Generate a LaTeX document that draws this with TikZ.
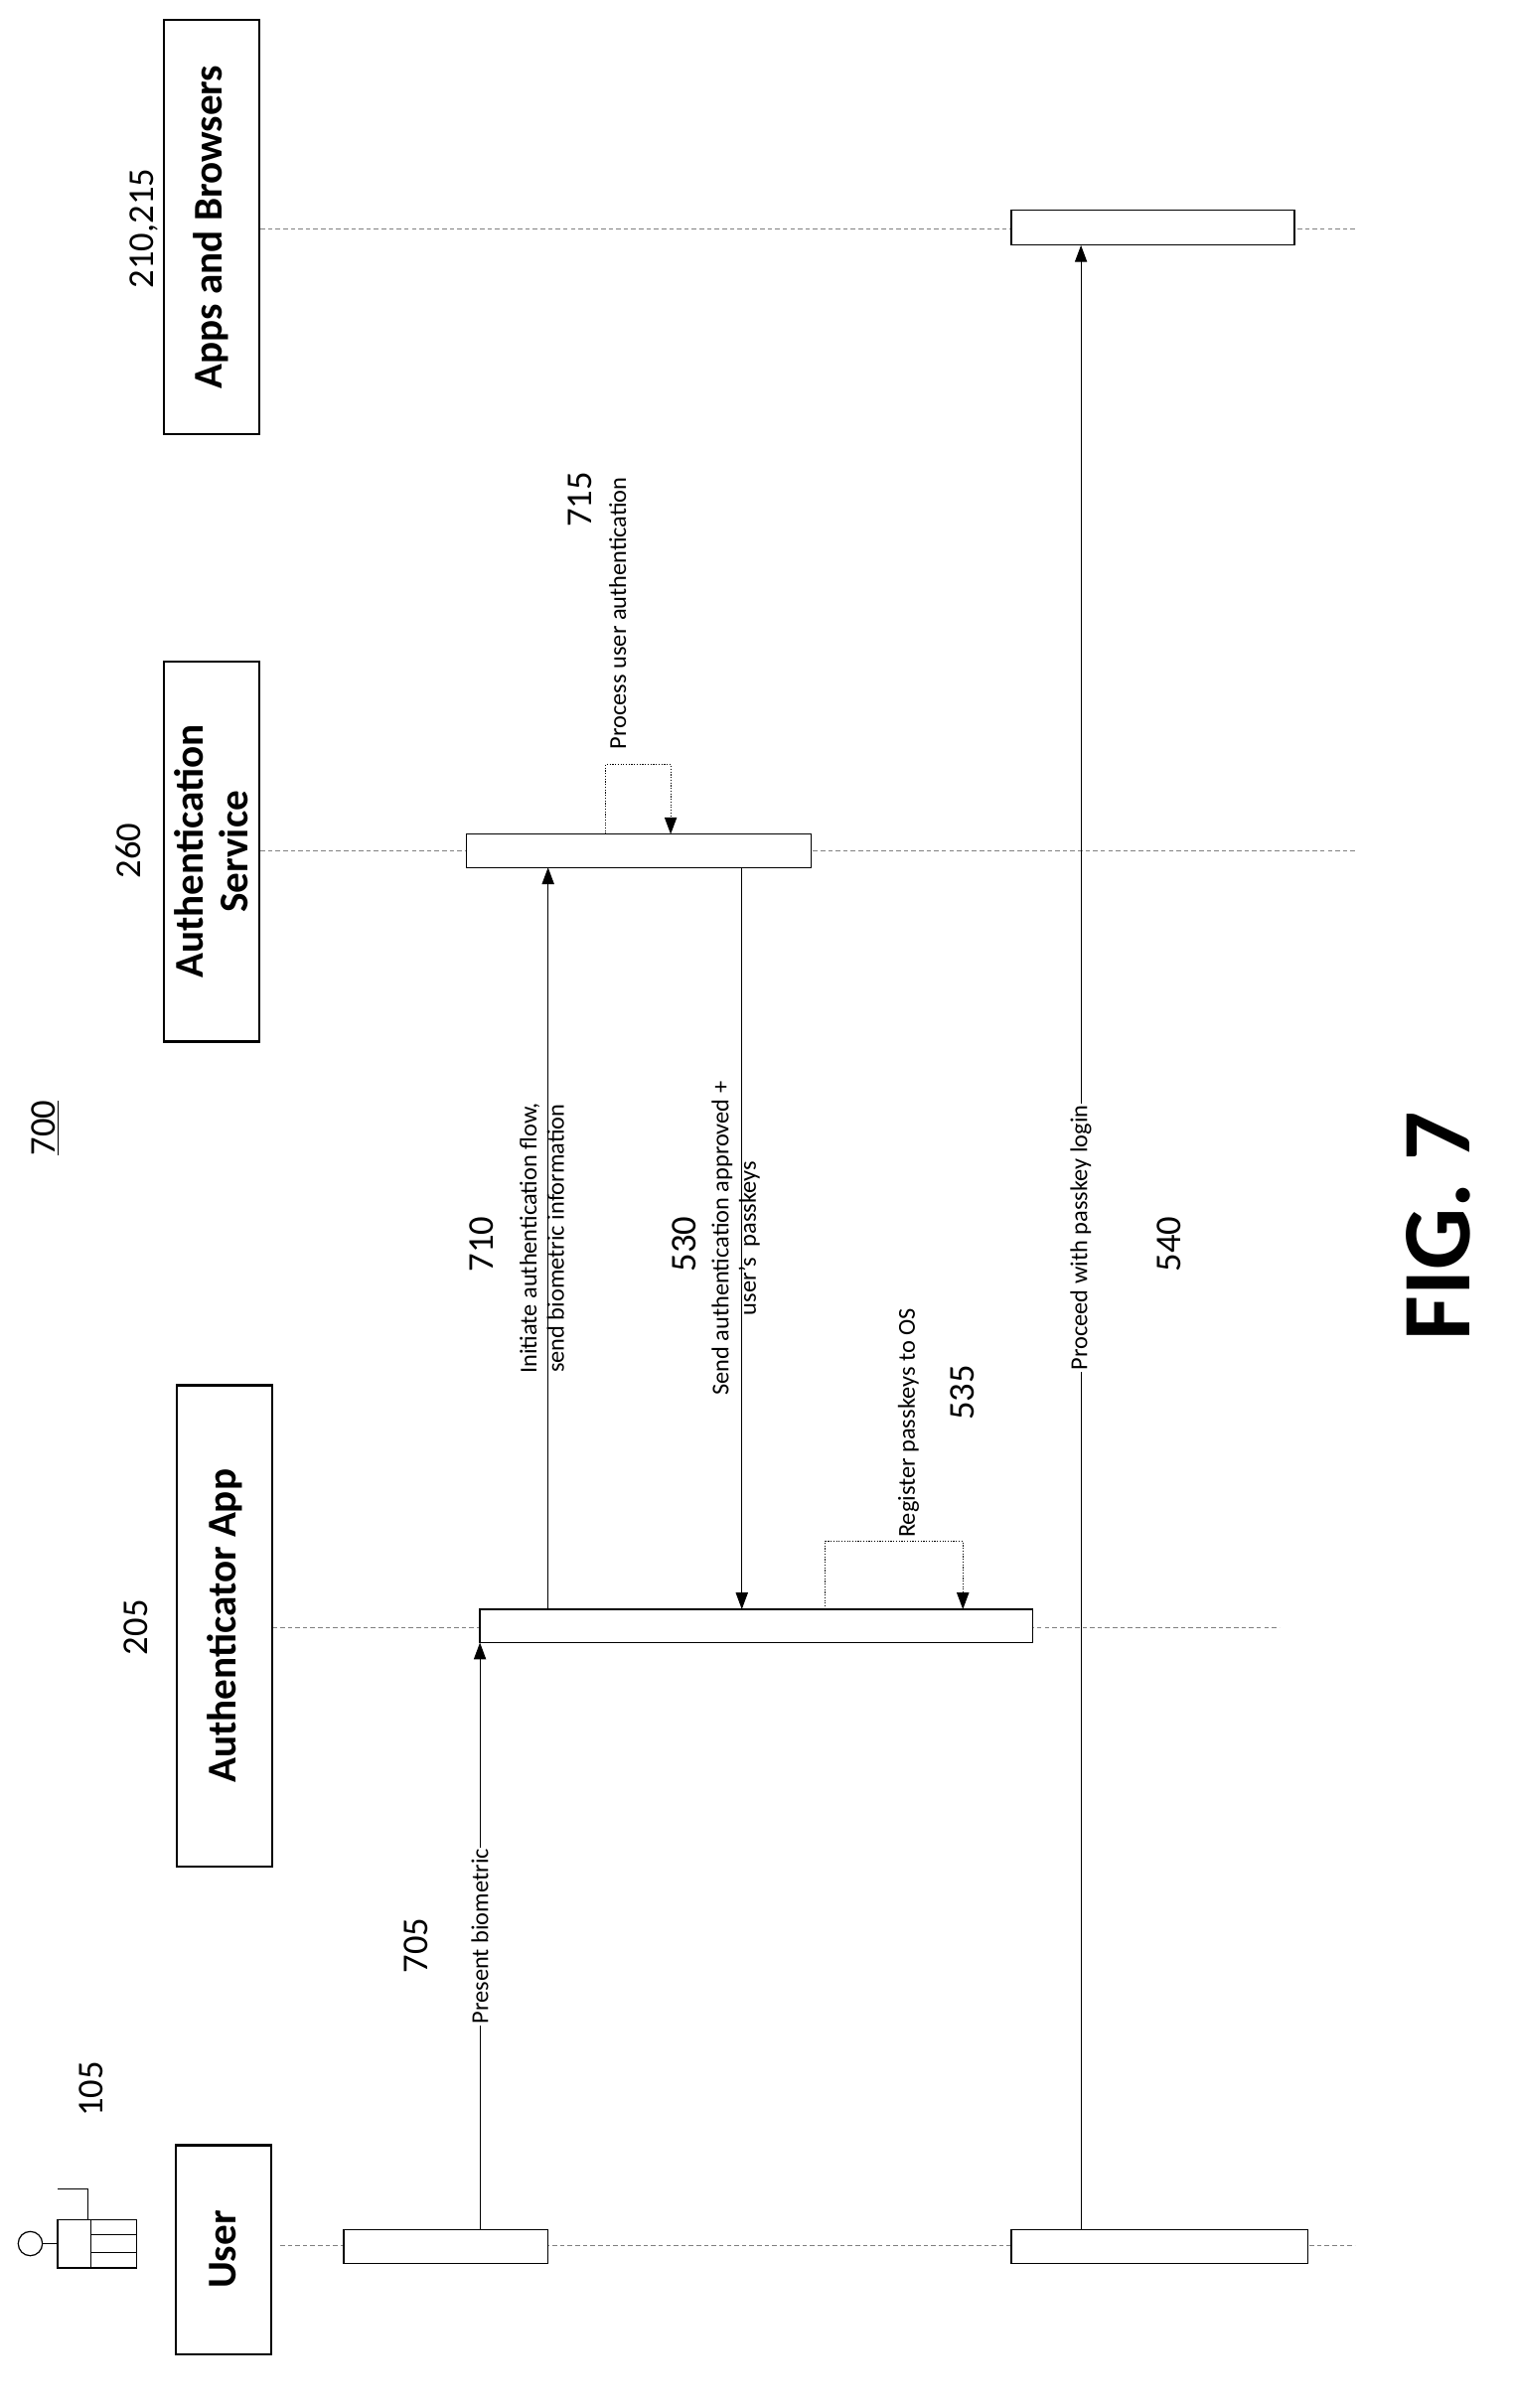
\documentclass[tikz,border=0pt]{standalone}
\usepackage{fontspec}
\setmainfont{Carlito}
\usetikzlibrary{arrows.meta}
\begin{document}
\begin{tikzpicture}[x=1pt,y=-1pt,
 life/.style={densely dashed,gray,line width=0.6pt},
 head/.style={draw,line width=1.4pt,minimum height=63pt,inner sep=0pt,rotate=90,font=\fontsize{27}{30}\selectfont\bfseries,align=center},
 act/.style={draw,fill=white,line width=0.8pt},
 msg/.style={line width=0.7pt,-{Triangle[length=11pt,width=8pt]}},
 self/.style={densely dotted,line width=0.8pt,-{Triangle[length=11pt,width=8pt]}},
 lab/.style={fill=white,inner sep=1pt,rotate=90,font=\fontsize{16}{18}\selectfont,align=center},
 num/.style={rotate=90,font=\fontsize{24}{26}\selectfont}]
\useasboundingbox (0,0) rectangle (1000,1590.6);
% lifelines
\draw[life] (185,1483) -- (895,1483);
\draw[life] (180,1075) -- (845,1075);
\draw[life] (172,562) -- (895,562);
\draw[life] (172,151) -- (895,151);
% headers
\node[head,minimum width=138pt] (hU) at (147.5,1486) {User};
\node[head,minimum width=318pt] (hA) at (148.5,1074) {Authenticator App};
\node[head,minimum width=251pt] (hS) at (139.5,562.5) {Authentication\\Service};
\node[head,minimum width=274pt] (hB) at (139.5,150) {Apps and Browsers};
\node[num] (n105) at (60,1380) {105};
\node[num] (n205) at (90,1075) {205};
\node[num] (n260) at (85,562) {260};
\node[num] (n210) at (95,151) {210,215};
% user icon
\draw[line width=0.8pt] (20,1482) circle (8);
\draw[line width=0.8pt] (28,1482) -- (38,1482);
\draw[line width=0.8pt] (38,1466) rectangle (90,1498);
\draw[line width=0.8pt] (60,1466) -- (60,1498);
\draw[line width=0.8pt] (60,1476) -- (90,1476);
\draw[line width=0.8pt] (60,1488) -- (90,1488);
\draw[line width=0.8pt] (38,1446) -- (58,1446) -- (58,1466);
% activation boxes
\draw[act] (227,1473) rectangle (362,1495);
\draw[act] (668,1473) rectangle (864,1495);
\draw[act] (317,1063) rectangle (682,1085);
\draw[act] (308,551) rectangle (536,573);
\draw[act] (668,139) rectangle (855,162);
\coordinate (a1s) at (317,1473); \coordinate (a1e) at (317,1085);
\coordinate (a2s) at (362,1063); \coordinate (a2e) at (362,573);
\coordinate (a3s) at (490,573); \coordinate (a3e) at (490,1063);
\coordinate (a4s) at (714,1473); \coordinate (a4e) at (714,162);
\draw[msg] (a1s) -- node[lab] {Present biometric} (a1e);
\draw[msg] (a2s) -- (a2e);
\draw[msg] (a3s) -- (a3e);
\draw[msg] (a4s) -- node[lab,pos=0.5] {Proceed with passkey login} (a4e);
\node[lab,fill=none] (l710) at (358,818) {Initiate authentication flow,\\send biometric information};
\node[lab,fill=none] (l530) at (486,818) {Send authentication approved +\\user's\ \ passkeys};
\draw[self] (545,1063) -- (545,1018) -- (636,1018) -- (636,1063);
\node[lab] (l535) at (600,940) {Register passkeys to OS};
\draw[self] (400,551) -- (400,505) -- (443,505) -- (443,551);
\node[lab] (l715) at (408,405) {Process user authentication};
\node[num] (n705) at (275,1285) {705};
\node[num] (n710) at (318,822) {710};
\node[num] (n530) at (452,822) {530};
\node[num] (n535) at (636,920) {535};
\node[num] (n715) at (383,330) {715};
\node[num] (n540) at (772,822) {540};
\node[num] (n700) at (30,745) {\underline{700}};
\node[rotate=90,font=\fontsize{64}{70}\selectfont\bfseries] (fig) at (950,810) {FIG. 7};
\end{tikzpicture}
\end{document}
